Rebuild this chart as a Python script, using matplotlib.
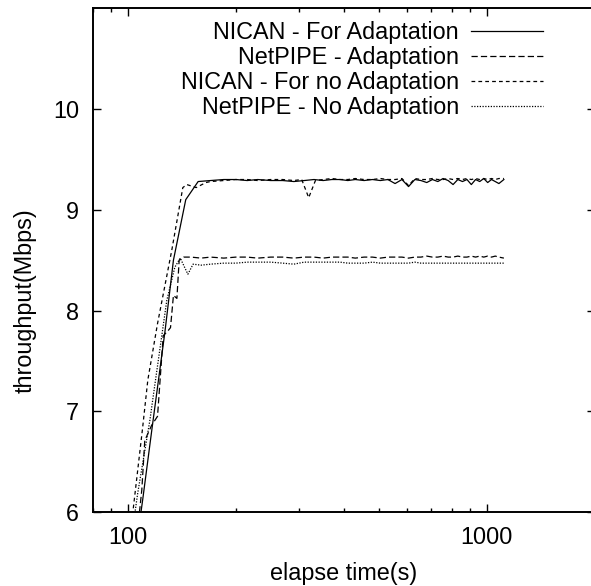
import matplotlib
matplotlib.use("Agg")
import matplotlib.pyplot as plt
from matplotlib.ticker import LogLocator, NullFormatter

# NICAN - For Adaptation (solid)
nican_adapt_t = [100, 105, 110, 117, 127, 134, 145, 157,
                 170, 185, 200, 215, 230, 250, 270, 290, 310, 330, 350, 370, 390, 410, 430,
                 455, 480, 505, 530, 555, 580, 605, 630, 655, 680, 705, 730, 755, 780, 805,
                 830, 855, 880, 905, 930, 955, 980, 1005, 1030, 1055, 1080, 1115]
nican_adapt_y = [5.1, 5.6, 6.12, 6.85, 7.8, 8.5, 9.1, 9.28,
                 9.29, 9.30, 9.30, 9.29, 9.30, 9.29, 9.29, 9.28, 9.29, 9.30, 9.29, 9.30, 9.30, 9.29, 9.30,
                 9.29, 9.30, 9.29, 9.30, 9.26, 9.30, 9.23, 9.30, 9.29, 9.27, 9.30, 9.28, 9.31, 9.29, 9.25,
                 9.30, 9.28, 9.30, 9.25, 9.30, 9.28, 9.31, 9.27, 9.30, 9.28, 9.26, 9.30]

# NetPIPE - Adaptation (long dash)
netpipe_adapt_t = [100, 109.4, 111.5, 116.5, 121, 125.5, 129.5, 131.5, 134, 137, 139, 143,
                   150, 160, 170, 185, 200, 215, 230, 250, 270, 290, 310, 330, 350, 370, 390, 410, 430,
                   455, 480, 505, 530, 555, 580, 605, 630, 655, 680, 705, 730, 755, 780, 805,
                   830, 855, 880, 905, 930, 955, 980, 1005, 1030, 1055, 1080, 1115]
netpipe_adapt_y = [4.9, 6.22, 6.71, 6.86, 6.95, 7.75, 7.8, 7.83, 8.15, 8.12, 8.5, 8.53,
                   8.53, 8.52, 8.53, 8.52, 8.53, 8.53, 8.52, 8.53, 8.53, 8.52, 8.53, 8.53, 8.52, 8.53, 8.53, 8.53, 8.52,
                   8.53, 8.53, 8.52, 8.53, 8.53, 8.53, 8.52, 8.53, 8.53, 8.54, 8.53, 8.53, 8.54, 8.53, 8.53,
                   8.54, 8.53, 8.53, 8.54, 8.53, 8.54, 8.53, 8.54, 8.53, 8.54, 8.53, 8.52]

# NICAN - For no Adaptation (short dash)
nican_noadapt_t = [100, 103.3, 110, 113.7, 121, 132.6, 142.3, 146, 155, 165,
                   170, 185, 200, 215, 230, 250, 270, 290, 305, 319, 333, 350, 370, 390, 410, 430,
                   455, 480, 505, 530, 555, 580, 605, 630, 655, 680, 705, 730, 755, 780, 805,
                   830, 855, 880, 905, 930, 955, 980, 1005, 1030, 1055, 1080, 1115]
nican_noadapt_y = [5.7, 6.0, 6.84, 7.31, 7.87, 8.6, 9.22, 9.25, 9.22, 9.27,
                   9.28, 9.29, 9.30, 9.30, 9.29, 9.30, 9.30, 9.29, 9.30, 9.12, 9.29, 9.30, 9.31, 9.30, 9.30, 9.31,
                   9.30, 9.30, 9.31, 9.30, 9.30, 9.31, 9.24, 9.31, 9.30, 9.30, 9.31, 9.30, 9.30, 9.31, 9.30,
                   9.31, 9.30, 9.31, 9.30, 9.31, 9.30, 9.31, 9.30, 9.31, 9.30, 9.31, 9.31]

# NetPIPE - No Adaptation (dotted)
netpipe_noadapt_t = [100, 106.6, 115.2, 118.9, 128.4, 135.2, 140, 143, 147, 152,
                     160, 170, 185, 200, 215, 230, 250, 270, 290, 310, 330, 350, 370, 390, 410, 430,
                     455, 480, 505, 530, 555, 580, 605, 630, 655, 680, 705, 730, 755, 780, 805,
                     830, 855, 880, 905, 930, 955, 980, 1005, 1030, 1055, 1080, 1115]
netpipe_noadapt_y = [5.5, 6.19, 6.91, 7.26, 8.1, 8.43, 8.52, 8.45, 8.36, 8.46,
                     8.45, 8.46, 8.47, 8.47, 8.48, 8.48, 8.48, 8.47, 8.46, 8.48, 8.48, 8.48, 8.48, 8.48, 8.47, 8.47,
                     8.47, 8.48, 8.47, 8.47, 8.47, 8.47, 8.47, 8.48, 8.47, 8.47, 8.47, 8.47, 8.47, 8.47, 8.47,
                     8.47, 8.47, 8.47, 8.47, 8.47, 8.47, 8.47, 8.47, 8.47, 8.47, 8.47, 8.47]

series = [
    ("NICAN - For Adaptation", nican_adapt_t, nican_adapt_y, "-"),
    ("NetPIPE - Adaptation", netpipe_adapt_t, netpipe_adapt_y, (0, (5, 2.5))),
    ("NICAN - For no Adaptation", nican_noadapt_t, nican_noadapt_y, (0, (3, 2.5))),
    ("NetPIPE - No Adaptation", netpipe_noadapt_t, netpipe_noadapt_y, (0, (1, 1.2))),
]

plt.rcParams["font.family"] = ["Liberation Sans", "DejaVu Sans"]
plt.rcParams["font.size"] = 16.8

fig = plt.figure(figsize=(5.91, 5.86), dpi=100)
# axes runs past the right edge of the figure, like the cropped original
ax = fig.add_axes([93 / 591, 1 - 512 / 586, 502 / 591, 503.75 / 586])

for label, t, y, ls in series:
    ax.plot(t, y, color="black", linewidth=0.9, linestyle=ls, label=label)

ax.set_xscale("log")
ax.set_xlim(80, 2000)
ax.set_ylim(6, 11)
ax.set_xticks([100, 1000])
ax.set_xticklabels(["100", "1000"])
ax.xaxis.set_minor_locator(LogLocator(base=10, subs=range(2, 10)))
ax.xaxis.set_minor_formatter(NullFormatter())
ax.set_yticks([6, 7, 8, 9, 10])
ax.tick_params(which="both", direction="in", top=True, right=True, width=1.0)
ax.tick_params(which="major", length=5.8)
ax.tick_params(which="minor", length=2.9)
ax.tick_params(axis="x", pad=10)
ax.tick_params(axis="y", pad=10)
for sp in ax.spines.values():
    sp.set_linewidth(1.4)

ax.set_xlabel("elapse time(s)")
ax.set_ylabel("throughput(Mbps)")
ax.xaxis.set_label_coords(0.5, -0.10)
ax.yaxis.set_label_coords(-0.112, 0.42)

ax.legend(loc="upper right", bbox_to_anchor=(543 / 591, 1 - 21 / 586),
          bbox_transform=fig.transFigure, frameon=False, markerfirst=False,
          handlelength=3.1, handletextpad=0.5, labelspacing=0.09,
          borderpad=0, borderaxespad=0)

plt.savefig("out.png", dpi=100)
plt.close()
